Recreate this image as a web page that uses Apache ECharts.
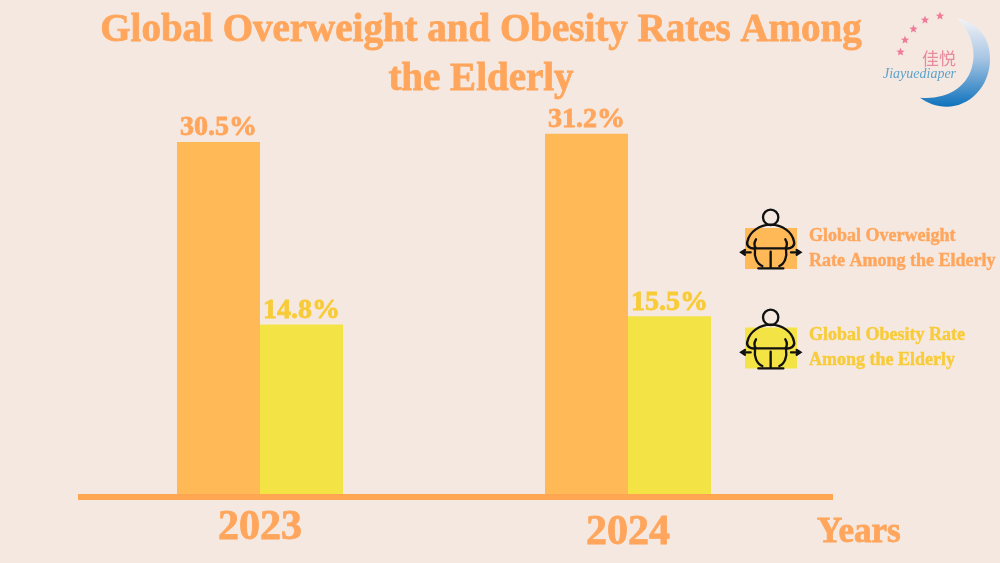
<!DOCTYPE html>
<html>
<head>
<meta charset="utf-8">
<style>html,body{margin:0;padding:0;background:#f5e8e0}#chart{width:1000px;height:563px}</style>
<script src="https://cdn.jsdelivr.net/npm/echarts@6/dist/echarts.min.js"></script>
</head>
<body>
<div id="chart"></div>
<script>
const years = ['2023', '2024'];
const overweight = [30.5, 31.2];
const obesity = [14.8, 15.5];
const overweightName = 'Global Overweight\nRate Among the Elderly';
const obesityName = 'Global Obesity Rate\nAmong the Elderly';

const serif = '"Liberation Serif", "DejaVu Serif", serif';
const orange = '#ffb957', yellow = '#f4e345', textOrange = '#ffa65c', textYellow = '#f8cb38';

// person outline and moon, drawn at 3x so they get scaled down by 1/3
const personPath = 'M145,52A23,23 0 1 1 99,52A23,23 0 1 1 145,52' +
    'M78,145C60,148 48,138 52,125C58,95 90,74 122,74C155,74 187,95 192,125C196,138 182,148 166,145' +
    'M78,118C72,128 72,138 78,145M166,118C172,128 172,138 166,145' +
    'M78,145L166,145M75,148C72,170 80,192 97,198M168,148C172,170 164,192 148,198' +
    'M122,155L122,205M85,205L160,205' +
    'M62,157L36,157M45,150L34,157L45,164M183,157L210,157M200,150L211,157L200,164';
const moonPath = 'M260,55C330,70 362,120 360,180C358,260 300,320 230,320C200,320 170,308 150,293' +
    'C220,300 285,270 305,205C322,150 300,90 260,55Z';
echarts.graphic.registerShape('person', echarts.graphic.extendPath(personPath, {}));
echarts.graphic.registerShape('moon', echarts.graphic.extendPath(moonPath, {}));

const chart = echarts.init(document.getElementById('chart'));

function person(top) {
    return {
        type: 'person', z: 10, x: 730, y: top, scaleX: 1 / 3, scaleY: 1 / 3,
        style: {fill: 'none', stroke: '#111', lineWidth: 7, lineCap: 'round'}
    };
}

function star(cx, cy) {
    const points = [];
    for (let i = 0; i < 10; i++) {
        const r = i % 2 ? 1.9 : 4.4, a = -Math.PI / 2 + i * Math.PI / 5;
        points.push([cx + r * Math.cos(a), cy + r * Math.sin(a)]);
    }
    return {type: 'polygon', shape: {points}, style: {fill: '#ee7b9b'}};
}

const heavy = {fontFamily: serif, fontWeight: 'bold', color: textOrange, textBorderColor: textOrange, textBorderWidth: 0.8};

chart.setOption({
    animation: false,
    backgroundColor: '#f5e8e0',
    title: {
        text: 'Global Overweight and Obesity Rates Among\nthe Elderly',
        left: 476, top: 1, textAlign: 'center',
        textStyle: Object.assign({}, heavy, {fontSize: 39, lineHeight: 49})
    },
    legend: {
        orient: 'vertical', left: 740, top: 215,
        itemWidth: 52, itemHeight: 41, itemGap: 46,
        icon: 'rect',
        data: [
            {name: overweightName, textStyle: {color: textOrange, textBorderColor: textOrange, padding: [0, 0, 7, 7]}},
            {name: obesityName, textStyle: {color: textYellow, textBorderColor: textYellow}}
        ],
        textStyle: {fontFamily: serif, fontWeight: 'bold', fontSize: 18, lineHeight: 25, textBorderWidth: 0.4, padding: [0, 0, 0, 7]}
    },
    grid: [
        {left: 76, width: 736, top: 31.5, height: 465},
        {left: 78, width: 755, top: 31.5, height: 465}
    ],
    xAxis: [
        {
            type: 'category', gridIndex: 0, data: years,
            axisLine: {show: false}, axisTick: {show: false},
            axisLabel: {
                margin: 11,
                formatter: function (v, i) { return i ? '{b|' + v + '}' : '{a|' + v + '}'; },
                rich: {
                    a: Object.assign({}, heavy, {fontSize: 42}),
                    b: Object.assign({}, heavy, {fontSize: 42, padding: [5, 0, 0, 0]})
                }
            }
        },
        {
            // baseline runs further right than the category bands
            type: 'category', gridIndex: 1, data: [''], z: 5,
            axisLine: {lineStyle: {color: '#ffa653', width: 6, cap: 'butt'}},
            axisTick: {show: false}, axisLabel: {show: false},
            name: '{y|Years}', nameLocation: 'end', nameGap: -16,
            nameTextStyle: {rich: {y: Object.assign({}, heavy, {fontSize: 35, padding: [72, 0, 0, 0]})}}
        }
    ],
    yAxis: [
        {type: 'value', gridIndex: 0, min: 0, max: 40, show: false},
        {type: 'value', gridIndex: 1, min: 0, max: 40, show: false}
    ],
    series: [
        {
            name: overweightName, type: 'bar', data: overweight, barWidth: 83, barGap: 0,
            itemStyle: {color: orange},
            label: Object.assign({show: true, position: 'top', distance: 0, formatter: '{c}%', fontSize: 28}, heavy)
        },
        {
            name: obesityName, type: 'bar', data: obesity, barWidth: 83,
            itemStyle: {color: yellow},
            label: Object.assign({show: true, position: 'top', distance: 0, formatter: '{c}%', fontSize: 28}, heavy, {color: textYellow, textBorderColor: textYellow})
        }
    ],
    graphic: [
        person(200),
        person(300),
        {
            type: 'moon', x: 870, y: 0, scaleX: 1 / 3, scaleY: 1 / 3,
            style: {
                fill: new echarts.graphic.LinearGradient(0, 0, 0, 1, [
                    {offset: 0, color: '#f3f3f6'},
                    {offset: 0.45, color: '#a9c6e4'},
                    {offset: 1, color: '#0e72bc'}
                ])
            }
        },
        star(900.5, 52), star(905, 40), star(913.5, 29), star(925, 20), star(940, 16),
        {type: 'text', x: 939, y: 59, style: {text: '佳悦', fontFamily: '"Noto Sans CJK SC"', fontSize: 17, fill: '#e88ba0', align: 'center', verticalAlign: 'middle'}},
        {type: 'text', x: 919.5, y: 74, style: {text: 'Jiayuediaper', fontFamily: serif, fontStyle: 'italic', fontSize: 14, fill: '#5ba3ce', align: 'center', verticalAlign: 'middle'}}
    ]
});
</script>
</body>
</html>
